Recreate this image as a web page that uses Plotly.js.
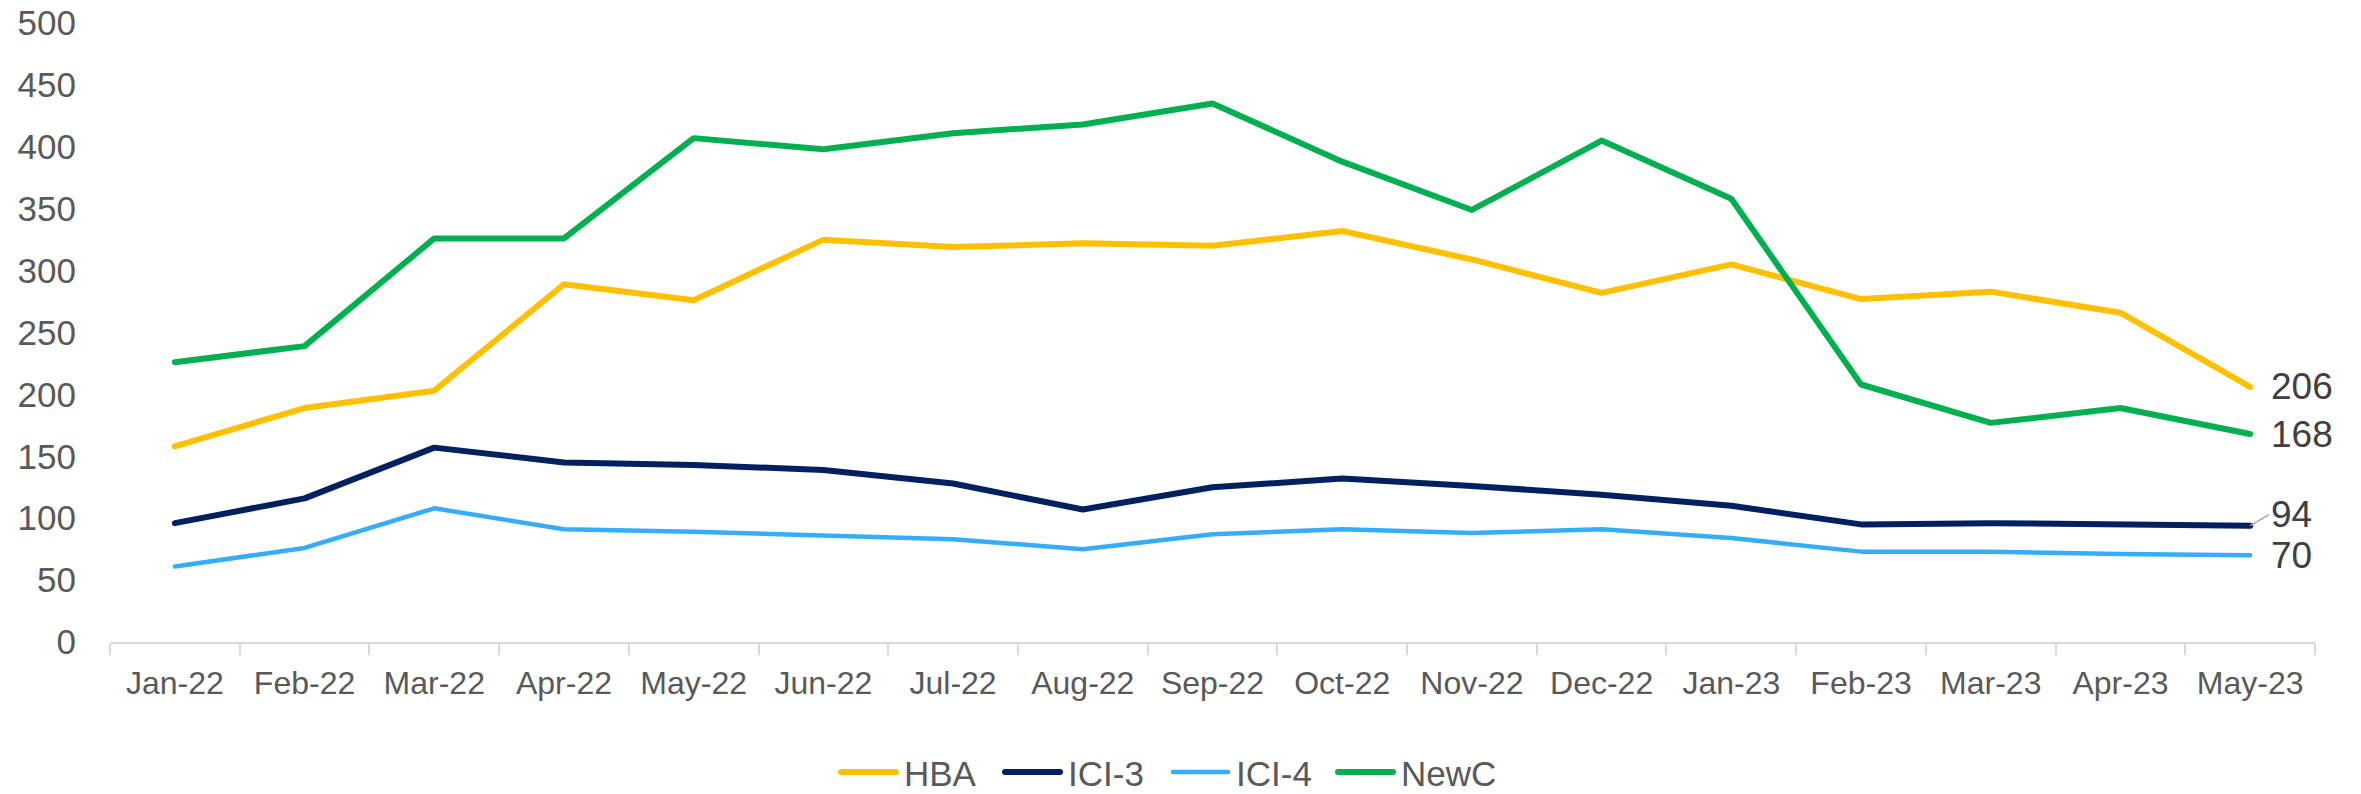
<!DOCTYPE html>
<html>
<head>
<meta charset="utf-8">
<script src="https://cdn.plot.ly/plotly-3.0.1.min.js"></script>
<style>
  html, body { margin: 0; padding: 0; background: #ffffff; }
  #chart { width: 2361px; height: 794px; }
  .scatterlayer path.js-line, .legendlines path { stroke-linejoin: round; stroke-linecap: round; }
</style>
</head>
<body>
<div id="chart"></div>
<script>
const categories = ['Jan-22','Feb-22','Mar-22','Apr-22','May-22','Jun-22','Jul-22','Aug-22','Sep-22','Oct-22','Nov-22','Dec-22','Jan-23','Feb-23','Mar-23','Apr-23','May-23'];
const hba  = [158,189,203,289,276,325,319,322,320,332,309,282,305,277,283,266,206];
const ici3 = [96,116,157,145,143,139,128,107,125,132,126,119,110,95,96,95,94];
const ici4 = [61,76,108,91,89,86,83,75,87,91,88,91,84,73,73,71,70];
const newc = [226,239,326,326,407,398,411,418,435,388,349,405,358,208,177,189,168];
const yTicks = [0,50,100,150,200,250,300,350,400,450,500];

const FONT = '"Liberation Sans", Arial, Helvetica, sans-serif';

const series = [
  {name: 'HBA',   y: hba,  color: '#FFC000', width: 6,   legend: 'legend'},
  {name: 'ICI-3', y: ici3, color: '#002060', width: 6,   legend: 'legend2'},
  {name: 'ICI-4', y: ici4, color: '#35ADFB', width: 4.5, legend: 'legend3'},
  {name: 'NewC',  y: newc, color: '#00B050', width: 6,   legend: 'legend4'}
];

const traces = series.map(s => ({
  type: 'scatter',
  mode: 'lines',
  name: s.name,
  legend: s.legend,
  x: categories,
  y: s.y,
  line: {color: s.color, width: s.width, shape: 'linear'},
  hoverinfo: 'x+y+name'
}));

const last = categories[categories.length - 1];
const endLabel = (arr, extra) => Object.assign({
  x: last, y: arr[arr.length - 1], xref: 'x', yref: 'y',
  text: String(arr[arr.length - 1]),
  showarrow: false, xanchor: 'left', yanchor: 'middle', xshift: 19,
  font: {family: FONT, size: 37, color: '#404040'}
}, extra || {});

const annotations = [
  endLabel(hba),
  endLabel(newc),
  endLabel(ici3, {showarrow: true, arrowhead: 0, arrowwidth: 1.5, arrowcolor: '#A6A6A6',
                  ax: 19, ay: -11, xshift: 0, standoff: 0}),
  endLabel(ici4)
];

const legendBox = (xpx) => ({
  orientation: 'h',
  xref: 'container', yref: 'container',
  x: xpx / 2361, xanchor: 'left',
  y: 0.0275, yanchor: 'middle',
  font: {family: FONT, size: 35, color: '#595959'},
  itemwidth: 58,
  bgcolor: 'rgba(0,0,0,0)',
  borderwidth: 0
});

const layout = {
  width: 2361,
  height: 794,
  margin: {l: 110, r: 46, t: 23, b: 152, pad: 0},
  paper_bgcolor: '#ffffff',
  plot_bgcolor: '#ffffff',
  font: {family: FONT, color: '#595959'},
  showlegend: true,
  legend:  legendBox(836),
  legend2: legendBox(1000),
  legend3: legendBox(1168),
  legend4: legendBox(1333),
  xaxis: {
    type: 'category',
    range: [-0.5, categories.length - 0.5],
    showline: true, linecolor: '#D9D9D9', linewidth: 2,
    ticks: 'outside', tickson: 'boundaries', ticklen: 11, tickcolor: '#D9D9D9', tickwidth: 2,
    ticklabelstandoff: 12,
    showgrid: false, zeroline: false,
    tickfont: {family: FONT, size: 32, color: '#595959'},
    fixedrange: true
  },
  yaxis: {
    range: [0, 500],
    tickmode: 'array', tickvals: yTicks, ticktext: yTicks.map(String),
    showgrid: false, zeroline: false, showline: false,
    ticks: 'outside', ticklen: 26, tickcolor: 'rgba(0,0,0,0)',
    tickfont: {family: FONT, size: 35, color: '#595959'},
    fixedrange: true
  },
  annotations: annotations
};

Plotly.newPlot('chart', traces, layout, {displayModeBar: false, staticPlot: true}).then(gd => {
  // lengthen the legend line samples to match the reference key style
  gd.querySelectorAll('.legendlines path').forEach(p => p.setAttribute('d', 'M5,0h55'));
});
</script>
</body>
</html>
